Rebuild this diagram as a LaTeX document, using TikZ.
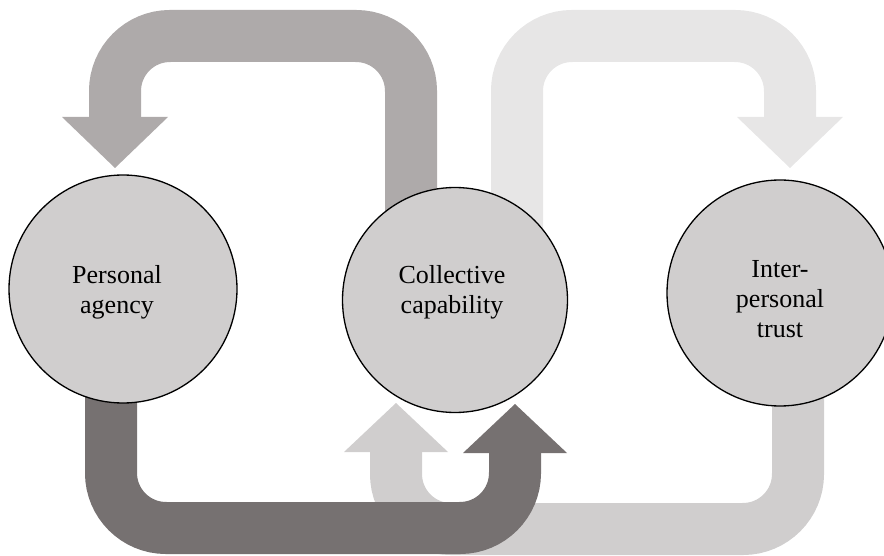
\documentclass[tikz,border=0pt]{standalone}
\usepackage{fontspec}
\setmainfont{Liberation Serif}
\definecolor{c-dark}{HTML}{767171}
\definecolor{c-mid}{HTML}{AEAAAA}
\definecolor{c-pale}{HTML}{E7E6E6}
\definecolor{c-soft}{HTML}{D0CECE}
\definecolor{c-disc}{HTML}{D0CECE}
\pgfdeclarelayer{background}
\pgfsetlayers{background,main}
\tikzset{
  disc/.style={circle, draw=black, line width=1.3pt, fill=c-disc, inner sep=0pt},
  caption/.style={align=center, inner sep=0pt, font=\fontsize{26}{30}\selectfont},
  band/.style={line width=52pt, rounded corners=55pt, line cap=butt},
  headdown/.pic={\fill (-53,0) -- (53,0) -- (0,51) -- cycle;},
  headup/.pic={\fill (-52,0) -- (52,0) -- (0,-49) -- cycle;}
}
\begin{document}
\begin{tikzpicture}[x=1pt,y=-1pt]
\useasboundingbox (0,0) rectangle (884,556);

% the three concepts
\node[disc, minimum size=228pt] (agency) at (123,289) {};
\node[disc, minimum size=225pt] (collective) at (455,300) {};
\node[disc, minimum size=226pt] (trust) at (780,293) {};

\node[caption] (agency-label) at (117,292) {Personal\\agency};
\node[caption] (collective-label) at (452,292) {Collective\\capability};
\node[caption] (trust-label) at (780,299) {Inter-\\personal\\trust};

% feedback arrows behind the circles
\begin{pgfonlayer}{background}
  % collective capability -> personal agency
  \draw[band, c-mid] ([xshift=-44pt]collective.center) |- (115,36) -- (115,117);
  \pic[color=c-mid] at (115,117) {headdown};

  % collective capability -> inter-personal trust
  \draw[band, c-pale] ([xshift=62pt]collective.center) |- (790,36) -- (790,117);
  \pic[color=c-pale] at (790,117) {headdown};

  % inter-personal trust -> collective capability
  \draw[band, c-soft] ([xshift=18pt]trust.center) |- (396,529) -- (396,452);
  \pic[color=c-soft] at (396,452) {headup};

  % personal agency -> collective capability
  \draw[band, c-dark] ([xshift=-12pt]agency.center) |- (515,528) -- (515,453);
  \pic[color=c-dark] at (515,453) {headup};
\end{pgfonlayer}
\end{tikzpicture}
\end{document}
